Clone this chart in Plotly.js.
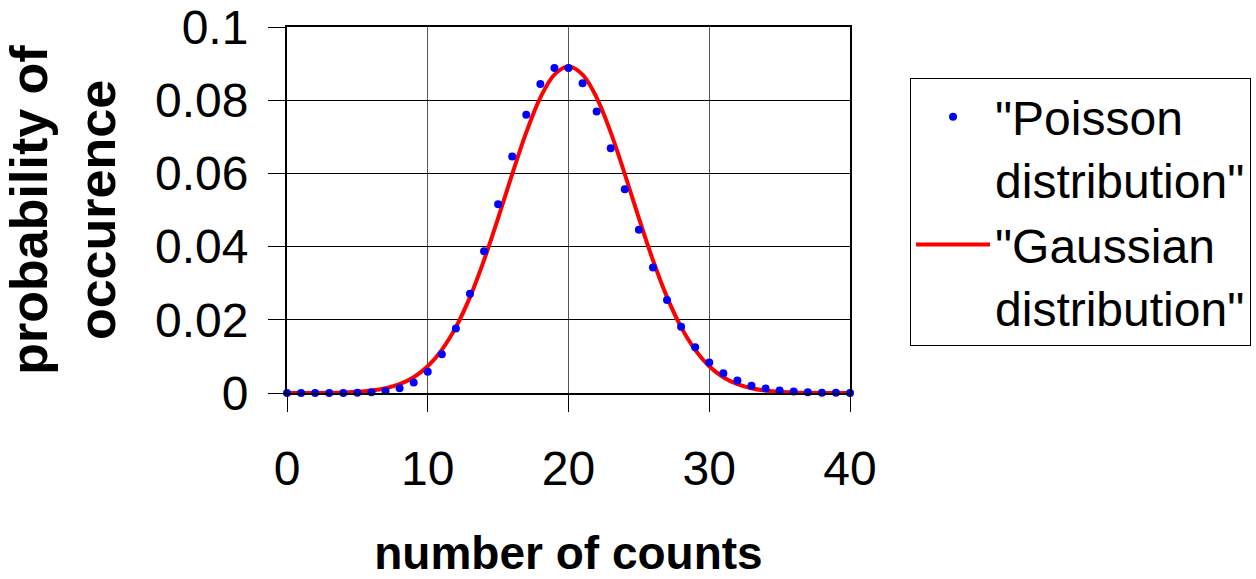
<!DOCTYPE html>
<html>
<head>
<meta charset="utf-8">
<script src="https://cdn.plot.ly/plotly-3.0.1.min.js"></script>
<style>html,body{margin:0;padding:0;background:#fff;}#chart{width:1256px;height:579px;}</style>
</head>
<body>
<div id="chart"></div>
<script>
const counts = [0,1,2,3,4,5,6,7,8,9,10,11,12,13,14,15,16,17,18,19,20,21,22,23,24,25,26,27,28,29,30,31,32,33,34,35,36,37,38,39,40];
const poissonProb = [0,0,0,0.00001,0.00001,0.00006,0.00018,0.00052,0.0013,0.0029,0.0058,0.0106,0.0176,0.0271,0.0387,0.0516,0.0646,0.0760,0.0844,0.0888,0.0888,0.0846,0.0769,0.0669,0.0557,0.0446,0.0343,0.0254,0.0181,0.0125,0.0083,0.0054,0.0034,0.0020,0.0012,0.0007,0.0004,0.0002,0.0001,0.00006,0.00003];
const gaussProb = [0.000004,0.000011,0.000027,0.000065,0.00015,0.00032,0.00066,0.0013,0.0024,0.0043,0.0073,0.0118,0.0180,0.0262,0.0363,0.0478,0.0598,0.0712,0.0807,0.0870,0.0892,0.0870,0.0807,0.0712,0.0598,0.0478,0.0363,0.0262,0.0180,0.0118,0.0073,0.0043,0.0024,0.0013,0.00066,0.00032,0.00015,0.000065,0.000027,0.000011,0.000004];
const seriesNames = ['"Poisson<br>distribution"', '"Gaussian<br>distribution"'];
const xTickVals = [0,10,20,30,40];
const xTickText = ['0','10','20','30','40'];
const xTitle = 'number of counts';
const yTitle = 'probability of<br>occurence';

const FONT = 'Liberation Sans, Arial, sans-serif';

const traces = [
  {
    x: counts, y: gaussProb, name: seriesNames[1], type: 'scatter', mode: 'lines',
    line: {color: '#ff0000', width: 4, shape: 'spline', smoothing: 1},
    legendrank: 2
  },
  {
    x: counts, y: poissonProb, name: seriesNames[0], type: 'scatter', mode: 'markers',
    marker: {color: '#0000ff', size: 8},
    cliponaxis: false,
    legendrank: 1
  }
];

const layout = {
  width: 1256, height: 579,
  paper_bgcolor: '#ffffff', plot_bgcolor: '#ffffff',
  font: {family: FONT, color: '#000', size: 48},
  margin: {l: 287, r: 406, t: 27, b: 186, autoexpand: false},
  showlegend: true,
  legend: {
    x: 1.1066, y: 0.8607, xanchor: 'left', yanchor: 'top',
    bgcolor: '#ffffff', bordercolor: '#000', borderwidth: 1,
    font: {family: FONT, size: 48, color: '#000'},
    valign: 'top', traceorder: 'normal', itemwidth: 74
  },
  xaxis: {
    range: [0, 40], tickvals: xTickVals, ticktext: xTickText,
    showgrid: true, gridcolor: '#555', gridwidth: 1,
    showline: true, linecolor: '#000', linewidth: 2, mirror: true,
    ticks: 'outside', ticklen: 17, tickcolor: '#000', tickwidth: 1,
    ticklabelstandoff: 15,
    tickfont: {family: FONT, size: 48, color: '#000'},
    zeroline: false, automargin: false,
    title: {text: '<b>' + xTitle + '</b>', font: {family: FONT, size: 46, color: '#000'}, standoff: 72}
  },
  yaxis: {
    range: [0, 0.1], dtick: 0.02, tick0: 0,
    showgrid: true, gridcolor: '#000', gridwidth: 1,
    showline: true, linecolor: '#000', linewidth: 2, mirror: true,
    ticks: 'outside', ticklen: 17, tickcolor: '#000', tickwidth: 1,
    ticklabelstandoff: 10,
    tickfont: {family: FONT, size: 48, color: '#000'},
    zeroline: false, automargin: false,
    title: {text: '<b>' + yTitle + '</b>', font: {family: FONT, size: 52, color: '#000'}, standoff: 23}
  }
};

Plotly.newPlot('chart', traces, layout, {displayModeBar: false, staticPlot: true});
</script>
</body>
</html>
